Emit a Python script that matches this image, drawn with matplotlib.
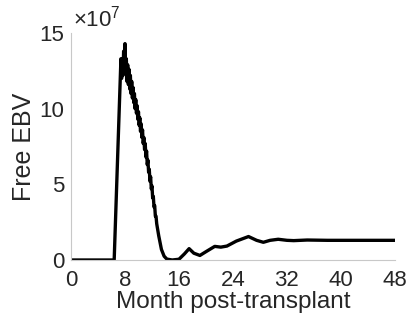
import numpy as np
import matplotlib.pyplot as plt

plt.rcParams['font.family'] = ['Liberation Sans', 'DejaVu Sans']
plt.rcParams['mathtext.fontset'] = 'custom'
plt.rcParams['mathtext.rm'] = 'Liberation Sans'

# mes pos-transplante e EBV livre (unidades de 1e7)
mes = [0, 6.4, 7.4, 7.5, 7.6, 7.7, 7.8, 7.9, 8.0, 8.1, 8.2, 8.3, 8.4, 8.5, 8.6, 8.7,
       8.8, 8.9, 9.0, 9.1, 9.2, 9.3, 9.4, 9.5, 9.6, 9.7, 9.8, 9.9, 10.0, 10.1, 10.2,
       10.3, 10.4, 10.5, 10.6, 10.7, 10.8, 10.9, 11.0, 11.1, 11.2, 11.3, 11.4, 11.5,
       11.6, 11.7, 11.8, 11.9, 12.0, 12.1, 12.2, 12.3, 12.4, 12.5, 12.6, 12.7,
       13.0, 13.4, 13.8, 14.2, 15.0, 16.0, 16.8, 17.5, 18.2, 19.1, 20.0, 21.3, 22.2,
       23.1, 24.5, 26.3, 27.5, 28.5, 29.5, 30.7, 32.0, 33.0, 35.0, 38.0, 48.0]
ebv = [0, 0, 13.3, 12.0, 13.3, 12.2, 13.8, 12.5, 14.3, 12.3, 13.3, 11.8, 12.9, 11.6,
       12.6, 11.3, 12.2, 11.0, 11.8, 10.7, 11.4, 10.4, 11.0, 10.0, 10.6, 9.7, 10.2,
       9.3, 9.8, 8.9, 9.4, 8.5, 9.0, 8.1, 8.6, 7.7, 8.1, 7.3, 7.7, 6.8, 7.2, 6.3,
       6.6, 5.8, 6.0, 5.2, 5.5, 4.7, 4.9, 4.1, 4.2, 3.5, 3.6, 2.9, 2.9, 2.4,
       1.6, 0.7, 0.25, 0.06, 0.0, 0.05, 0.4, 0.75, 0.45, 0.3, 0.55, 0.9, 0.85,
       0.92, 1.25, 1.55, 1.3, 1.17, 1.3, 1.37, 1.3, 1.28, 1.32, 1.3, 1.3]
xticks = [0, 8, 16, 24, 32, 40, 48]
yticks = [0, 5, 10, 15]

cinza = '#262626'
fig = plt.figure(figsize=(4.11, 3.27), dpi=100)
ax = fig.add_axes([0.1727, 0.2049, 0.7883, 0.6941])
ax.plot(mes, np.array(ebv) * 1e7, color='black', lw=2.4, solid_joinstyle='round')
ax.set_xlim(0, 48)
ax.set_ylim(0, 15e7)
ax.set_xticks(xticks)
ax.set_yticks([v * 1e7 for v in yticks])
ax.set_yticklabels([str(v) for v in yticks])
ax.tick_params(length=0, labelsize=16, colors=cinza)
ax.tick_params(axis='x', pad=7)
ax.tick_params(axis='y', pad=5)
for s in ['top', 'right']:
    ax.spines[s].set_visible(False)
for s in ['left', 'bottom']:
    ax.spines[s].set_color('#c8c8c8')
    ax.spines[s].set_linewidth(0.8)
ax.set_xlabel('Month post-transplant', fontsize=17.5, color=cinza, labelpad=0)
ax.set_ylabel('Free EBV', fontsize=18, color=cinza, labelpad=2)
ax.text(0.005, 1.005, r'$\times10^7$', transform=ax.transAxes, fontsize=16,
        color=cinza, ha='left', va='bottom')
fig.savefig('out.png', dpi=100)
